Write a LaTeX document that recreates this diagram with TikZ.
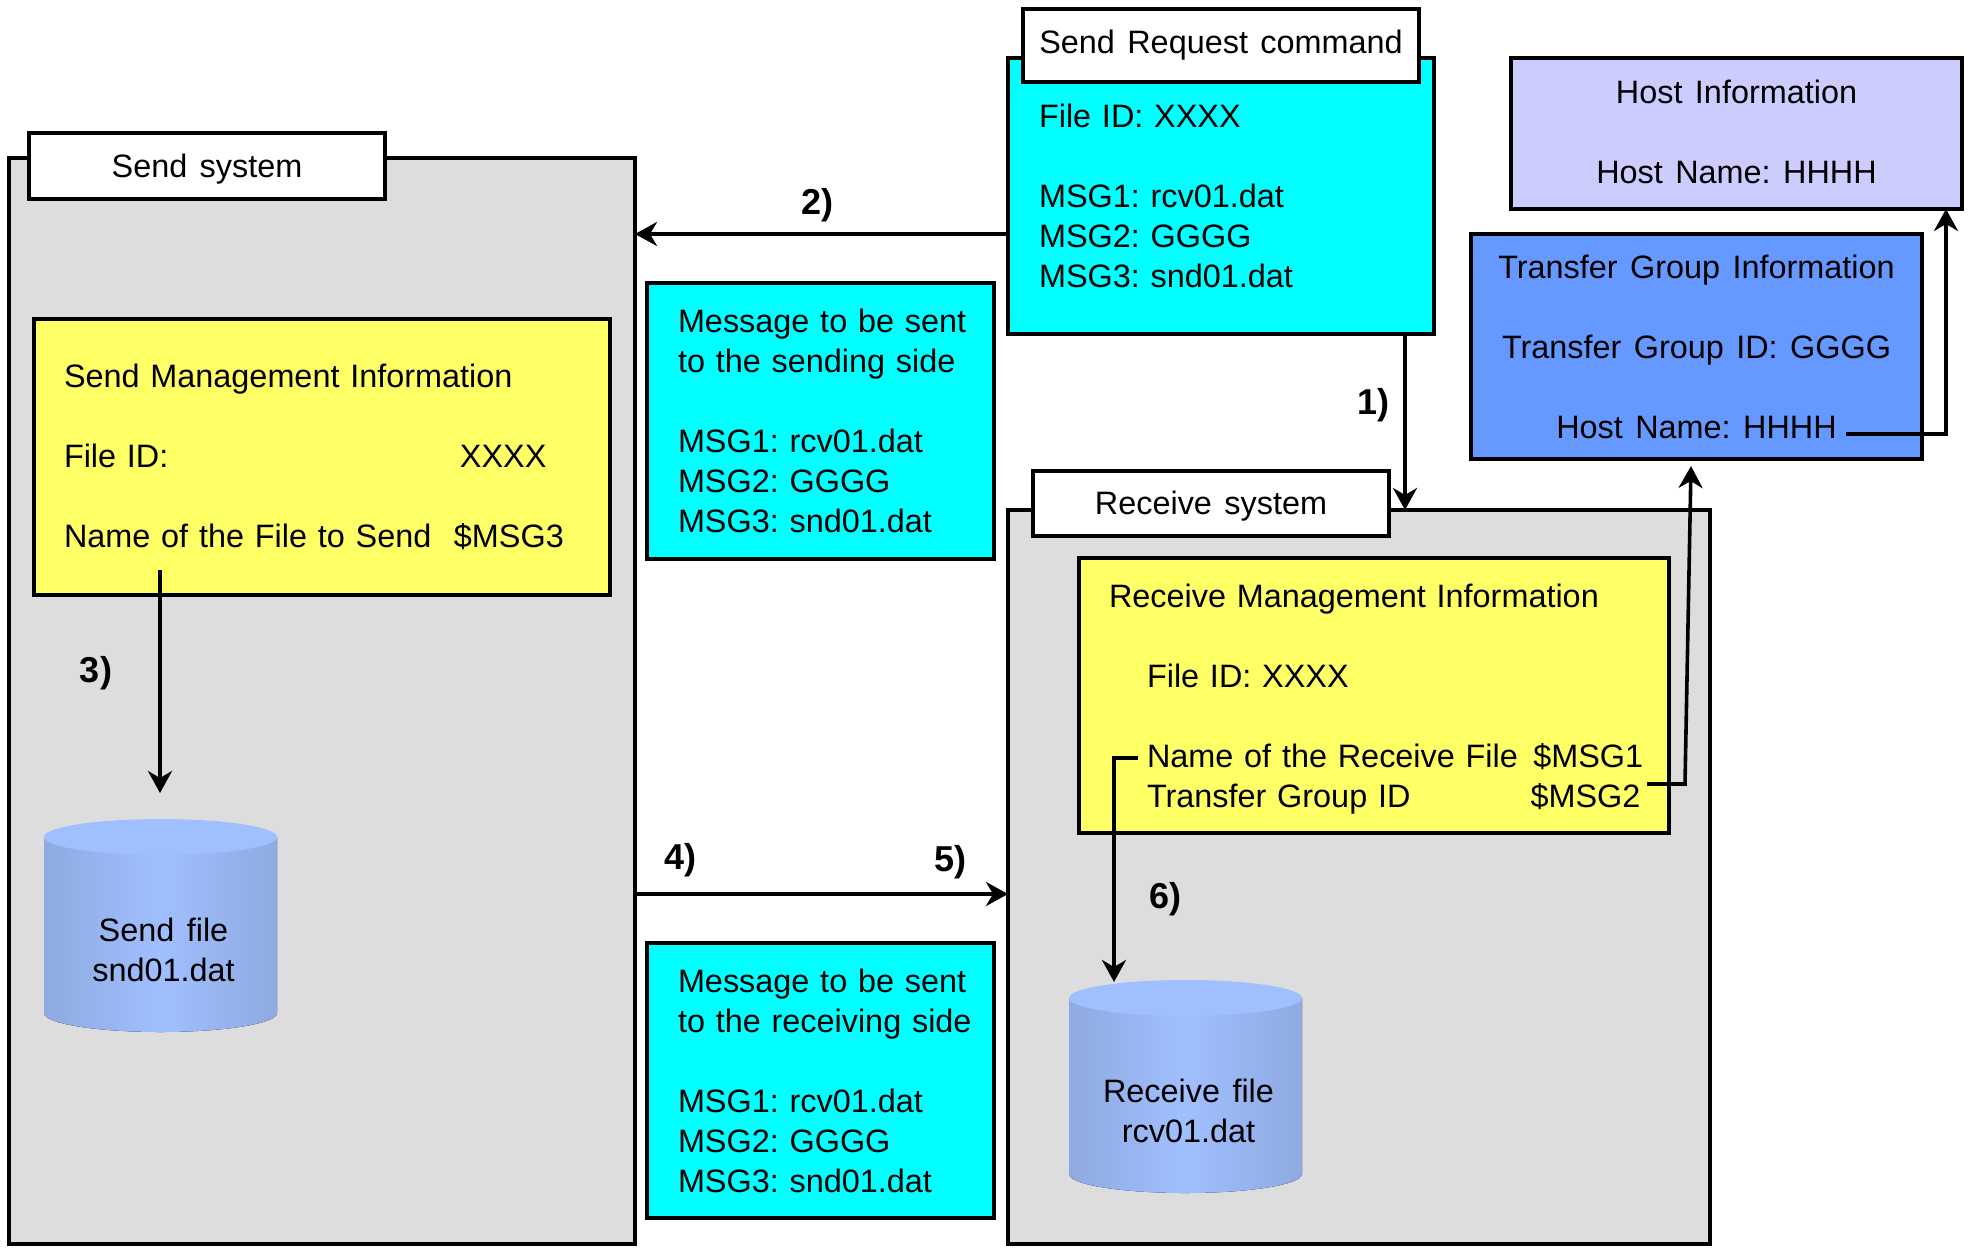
\documentclass[tikz,border=0pt]{standalone}
\usepackage{fontspec}
\setmainfont[WordSpace=1.38]{Liberation Sans}
\usetikzlibrary{arrows.meta}
\frenchspacing
\definecolor{greyfill}{HTML}{DDDDDD}
\definecolor{msgfill}{HTML}{00FFFF}
\definecolor{mgmtfill}{HTML}{FFFF66}
\definecolor{hostfill}{HTML}{CCCCFF}
\definecolor{groupfill}{HTML}{6699FF}
\definecolor{cylside}{HTML}{8FAAE0}
\definecolor{cyllight}{HTML}{A0BFFF}
\tikzset{
  box/.style={draw=black,line width=2pt,inner sep=0pt,outer sep=0pt,font=\fontsize{16.2}{20}\selectfont\frenchspacing},
  textbox/.style={box,align=left,inner xsep=15pt},
  msgbox/.style={textbox,fill=msgfill,inner xsep=15.5pt},
  tag/.style={box,fill=white},
  num/.style={inner sep=0pt,font=\fontsize{18}{20}\selectfont\bfseries},
  plain/.style={inner sep=0pt,align=center,font=\fontsize{16.2}{20}\selectfont\frenchspacing},
  link/.style={line width=1.8pt,-{Stealth[length=11pt,width=12pt,inset=3.5pt]}}
}
\begin{document}
\begin{tikzpicture}[x=0.5pt,y=-0.5pt]
  \useasboundingbox (0,0) rectangle (1971,1253);

  \node[box,fill=greyfill,minimum width=313pt,minimum height=543pt] (sendsys) at (322,701) {};
  \node[box,fill=greyfill,minimum width=351pt,minimum height=367pt] (recvsys) at (1359,877) {};
  \node[tag,text depth=0pt,minimum width=178pt,minimum height=33pt] (sendtag) at (207,166) {Send system};
  \node[tag,text depth=0pt,minimum width=178pt,minimum height=32.5pt] (recvtag) at (1211,503) {Receive system};

  \node[msgbox,minimum height=138pt,text width=182pt] (reqbox) at (1221,196)
    {File ID: XXXX\\[20pt]MSG1: rcv01.dat\\MSG2: GGGG\\MSG3: snd01.dat};
  \node[tag,minimum width=198pt,minimum height=36.5pt] (reqtag) at (1221,45.5) {Send Request command};

  \node[box,align=center,fill=hostfill,minimum width=225.5pt,minimum height=75.5pt] (hostbox) at (1736.5,133.5)
    {Host Information\\[20pt]Host Name: HHHH\rule[-2pt]{0pt}{2pt}};
  \node[box,align=center,fill=groupfill,minimum width=225.5pt,minimum height=112.5pt] (groupbox) at (1696.5,346.5)
    {Transfer Group Information\\[20pt]Transfer Group ID: GGGG\\[20pt]Host Name: HHHH};

  \node[msgbox,minimum height=138pt,text width=142.5pt] (msgsend) at (820.5,421)
    {\mbox{Message to be sent}\\\mbox{to the sending side}\\[20pt]MSG1: rcv01.dat\\MSG2: GGGG\\MSG3: snd01.dat};
  \node[msgbox,minimum height=137.5pt,text width=142.5pt] (msgrecv) at (820.5,1080.5)
    {\mbox{Message to be sent}\\\mbox{to the receiving side}\\[20pt]MSG1: rcv01.dat\\MSG2: GGGG\\MSG3: snd01.dat};

  \node[textbox,fill=mgmtfill,minimum height=138pt,text width=258pt] (sendmgmt) at (322,457)
    {Send Management Information\\[20pt]\makebox[198pt][l]{File ID:}XXXX\\[20pt]\makebox[195pt][l]{Name of the File to Send}\$MSG3};
  \node[textbox,fill=mgmtfill,minimum height=137.5pt,text width=265pt] (recvmgmt) at (1374,695.5)
    {\rule{0pt}{15.5pt}Receive Management Information\\[20pt]\hspace*{19pt}File ID: XXXX\\[20pt]\hspace*{19pt}\makebox[193.2pt][l]{Name of the Receive File}\$MSG1\\\hspace*{19pt}\makebox[191.8pt][l]{Transfer Group ID}\$MSG2};

  % cylinders
  \foreach \cx/\cy/\name/\first/\second in {160.5/837/sendfile/Send file/snd01.dat,1185.5/998/recvfile/Receive file/rcv01.dat}{
    \fill[left color=cylside,right color=cylside,middle color=cyllight,shading angle=90]
      (\cx-116.5,\cy) -- (\cx-116.5,\cy+176) arc[start angle=180,end angle=0,x radius=116.5,y radius=19]
      -- (\cx+116.5,\cy) -- cycle;
    \fill[cyllight] (\cx,\cy) ellipse[x radius=116.5,y radius=18];
    \node[plain] (\name) at (\cx+3,\cy+113) {\first\\\second};
  }

  \node[num] (n1) at (1373,405) {1)};
  \node[num] (n2) at (817,205) {2)};
  \node[num] (n3) at (96,673) {3)};
  \node[num] (n4) at (680,860) {4)};
  \node[num] (n5) at (950,862) {5)};
  \node[num] (n6) at (1165,899) {6)};

  \coordinate (y2) at (0,234);
  \coordinate (x1) at (1405,0);
  \coordinate (y45) at (0,894);
  \coordinate (a3) at (160,570);
  \coordinate (b3) at (160,793);
  \coordinate (a6) at (1138,758);
  \coordinate (m6) at (1114,758);
  \coordinate (b6) at (1114,982);
  \coordinate (a7) at (1647,784);
  \coordinate (m7) at (1685,784);
  \coordinate (b7) at (1691,466);
  \coordinate (a8) at (1846,434);
  \coordinate (m8) at (1946,434);

  \draw[link] (reqbox.south -| x1) -- (recvsys.north -| x1);
  \draw[link] (reqbox.west |- y2) -- (sendsys.east |- y2);
  \draw[link] (a3) -- (b3);
  \draw[link] (sendsys.east |- y45) -- (recvsys.west |- y45);
  \draw[link] (a6) -- (m6) -- (b6);
  \draw[link] (a7) -- (m7) -- (b7);
  \draw[link] (a8) -- (m8) -- (hostbox.south -| m8);

\end{tikzpicture}
\end{document}
